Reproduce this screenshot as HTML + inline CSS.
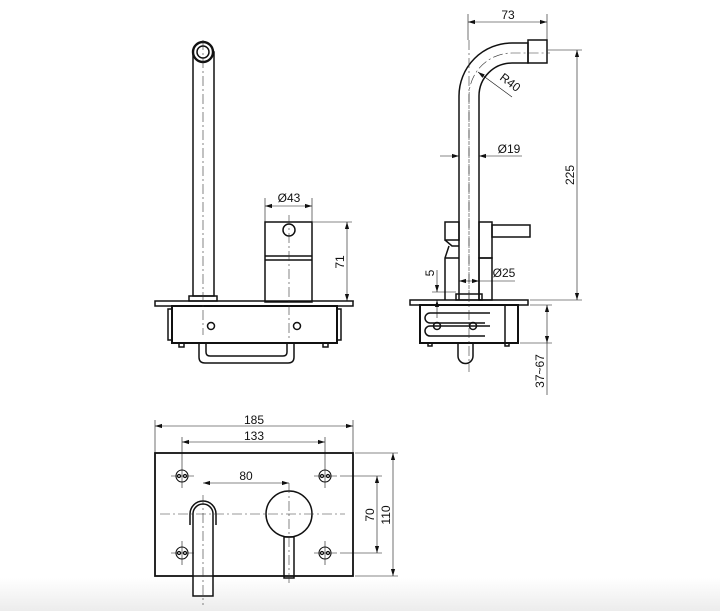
<!DOCTYPE html>
<html><head><meta charset="utf-8"><style>
html,body{margin:0;padding:0;background:#fff}
svg{display:block}
text{font-family:"Liberation Sans",sans-serif;font-size:12px;fill:#111}
</style></head><body>
<svg width="720" height="611" viewBox="0 0 720 611" xmlns="http://www.w3.org/2000/svg">
<defs>
<linearGradient id="bg" x1="0" y1="0" x2="0" y2="1"><stop offset="0" stop-color="#fff"/><stop offset="1" stop-color="#ececec"/></linearGradient>
<marker id="a" viewBox="0 0 10 10" refX="10" refY="5" markerWidth="7" markerHeight="7" orient="auto-start-reverse" markerUnits="userSpaceOnUse"><path d="M0,2 L10,5 L0,8 z" fill="#111"/></marker>
</defs>
<rect x="0" y="578" width="720" height="33" fill="url(#bg)"/>
<g fill="none" stroke="#111" stroke-width="1.5">
<rect x="193" y="52" width="21" height="244" fill="#fff"/>
<circle cx="203" cy="52" r="10" fill="#fff" stroke-width="2.4"/>
<circle cx="203" cy="52" r="6"/>
<rect x="189" y="296" width="28" height="5"/>
<rect x="155" y="301" width="198" height="5"/>
<rect x="172" y="306" width="165" height="37" stroke-width="2"/>
<rect x="168" y="309" width="4" height="31"/>
<rect x="337" y="309" width="4" height="31"/>
<circle cx="211" cy="326" r="3.5"/>
<circle cx="297" cy="326" r="3.5"/>
<path d="M199,343 V357 Q199,363 205,363 H288 Q294,363 294,357 V343"/>
<path d="M206,343 V352 Q206,356 210,356 H283 Q287,356 287,352 V343"/>
<rect x="179" y="343" width="5" height="4"/>
<rect x="323" y="343" width="5" height="4"/>
<rect x="265" y="222" width="47" height="80"/>
<line x1="265" y1="256" x2="312" y2="256"/><line x1="265" y1="260" x2="312" y2="260"/>
<circle cx="289" cy="230" r="6"/>
<path d="M459,300 V96 A53,53 0 0 1 512,43 H528 V63 H512 A33,33 0 0 0 479,96 V300" fill="#fff"/>
<rect x="528" y="40" width="19" height="23"/>
<rect x="445" y="222" width="14" height="18"/>
<rect x="479" y="222" width="13" height="36"/>
<rect x="492" y="225" width="38" height="12"/>
<path d="M445,240 L452,246 L459,246 M449,246 L445,258 V300 M459,258 H445"/>
<rect x="479" y="258" width="13" height="42"/>
<rect x="456" y="294" width="26" height="6"/>
<rect x="410" y="300" width="118" height="5"/>
<rect x="420" y="305" width="98" height="38" stroke-width="2"/>
<line x1="505" y1="305" x2="505" y2="343"/>
<path d="M490,313 H430 A5,5 0 0 0 430,323 H485"/>
<path d="M490,326 H430 A5,5 0 0 0 430,336 H485"/>
<circle cx="437" cy="326" r="3.5"/>
<circle cx="473" cy="326" r="3.5"/>
<path d="M458,343 V356 A7.5,7.5 0 0 0 473,356 V343"/>
<rect x="428" y="343" width="4" height="3"/>
<rect x="505" y="343" width="4" height="3"/>
<rect x="155" y="453" width="198" height="123" stroke-width="1.8"/>
<g stroke-width="1.1">
<circle cx="182" cy="476" r="6"/><circle cx="179" cy="476" r="1.6"/><circle cx="185" cy="476" r="1.6"/>
<circle cx="325" cy="476" r="6"/><circle cx="322" cy="476" r="1.6"/><circle cx="328" cy="476" r="1.6"/>
<circle cx="182" cy="553" r="6"/><circle cx="179" cy="553" r="1.6"/><circle cx="185" cy="553" r="1.6"/>
<circle cx="325" cy="553" r="6"/><circle cx="322" cy="553" r="1.6"/><circle cx="328" cy="553" r="1.6"/>
</g>
<path d="M190,525 V514 A13,13 0 0 1 216,514 V525"/>
<path d="M193,596 V514 A10,10 0 0 1 213,514 V596 Z" fill="#fff"/>
<line x1="193" y1="576" x2="213" y2="576"/>
<circle cx="289" cy="514" r="23"/>
<rect x="284" y="537" width="10" height="41"/>
</g>
<g stroke="#333" stroke-width="0.6" stroke-dasharray="10,3,2,3" fill="none">
<line x1="203" y1="40" x2="203" y2="335"/>
<line x1="289" y1="215" x2="289" y2="340"/>
<line x1="469" y1="40" x2="469" y2="372"/>
<path d="M469,300 V96 A43,43 0 0 1 512,53 H550"/>
<line x1="160" y1="514" x2="345" y2="514"/>
<line x1="203" y1="495" x2="203" y2="605"/>
<line x1="289" y1="483" x2="289" y2="585"/>
</g>
<g stroke="#111" stroke-width="0.6" fill="none">
<line x1="265" y1="198" x2="265" y2="222"/><line x1="312" y1="198" x2="312" y2="222"/>
<line x1="265" y1="206" x2="312" y2="206" marker-start="url(#a)" marker-end="url(#a)"/>
<line x1="313" y1="222" x2="352" y2="222"/><line x1="354" y1="301" x2="352" y2="301"/>
<line x1="347" y1="222" x2="347" y2="301" marker-start="url(#a)" marker-end="url(#a)"/>
<line x1="468" y1="14" x2="468" y2="40"/><line x1="547" y1="14" x2="547" y2="40"/>
<line x1="468" y1="22" x2="547" y2="22" marker-start="url(#a)" marker-end="url(#a)"/>
<line x1="512" y1="97" x2="478" y2="72" marker-end="url(#a)"/>
<line x1="440" y1="156" x2="459" y2="156" marker-end="url(#a)"/>
<line x1="522" y1="156" x2="479" y2="156" marker-end="url(#a)"/>
<line x1="548" y1="50" x2="582" y2="50"/><line x1="530" y1="300" x2="582" y2="300"/>
<line x1="577" y1="50" x2="577" y2="300" marker-start="url(#a)" marker-end="url(#a)"/>
<line x1="459" y1="281" x2="479" y2="281" marker-start="url(#a)" marker-end="url(#a)"/>
<line x1="479" y1="281" x2="515" y2="281"/>
<line x1="432" y1="292" x2="456" y2="292"/>
<line x1="437" y1="270" x2="437" y2="292" marker-end="url(#a)"/>
<line x1="437" y1="318" x2="437" y2="300" marker-end="url(#a)"/>
<line x1="530" y1="305" x2="552" y2="305"/><line x1="520" y1="343" x2="552" y2="343"/>
<line x1="547" y1="305" x2="547" y2="343" marker-start="url(#a)" marker-end="url(#a)"/>
<line x1="547" y1="343" x2="547" y2="395"/>
<line x1="155" y1="420" x2="155" y2="453"/><line x1="353" y1="420" x2="353" y2="453"/>
<line x1="155" y1="426" x2="353" y2="426" marker-start="url(#a)" marker-end="url(#a)"/>
<line x1="182" y1="437" x2="182" y2="488"/><line x1="325" y1="437" x2="325" y2="488"/>
<line x1="182" y1="442" x2="325" y2="442" marker-start="url(#a)" marker-end="url(#a)"/>
<line x1="171" y1="476" x2="194" y2="476"/><line x1="314" y1="476" x2="337" y2="476"/>
<line x1="171" y1="553" x2="194" y2="553"/><line x1="314" y1="553" x2="337" y2="553"/>
<line x1="182" y1="541" x2="182" y2="565"/><line x1="325" y1="541" x2="325" y2="565"/>
<line x1="203" y1="483" x2="289" y2="483" marker-start="url(#a)" marker-end="url(#a)"/>
<line x1="340" y1="476" x2="382" y2="476"/><line x1="340" y1="553" x2="382" y2="553"/>
<line x1="377" y1="476" x2="377" y2="553" marker-start="url(#a)" marker-end="url(#a)"/>
<line x1="355" y1="453" x2="398" y2="453"/><line x1="355" y1="576" x2="398" y2="576"/>
<line x1="393" y1="453" x2="393" y2="576" marker-start="url(#a)" marker-end="url(#a)"/>
</g>
<text x="289" y="202" text-anchor="middle">Ø43</text>
<text transform="translate(344,262) rotate(-90)" text-anchor="middle">71</text>
<text x="508" y="19" text-anchor="middle">73</text>
<text transform="translate(499,79) rotate(37)">R40</text>
<text x="509" y="153" text-anchor="middle">Ø19</text>
<text transform="translate(574,175) rotate(-90)" text-anchor="middle">225</text>
<text x="504" y="277" text-anchor="middle">Ø25</text>
<text transform="translate(434,273) rotate(-90)" text-anchor="middle">5</text>
<text transform="translate(544,371) rotate(-90)" text-anchor="middle">37~67</text>
<text x="254" y="424" text-anchor="middle">185</text>
<text x="254" y="440" text-anchor="middle">133</text>
<text x="246" y="480" text-anchor="middle">80</text>
<text transform="translate(374,515) rotate(-90)" text-anchor="middle">70</text>
<text transform="translate(390,515) rotate(-90)" text-anchor="middle">110</text>
</svg>
</body></html>
